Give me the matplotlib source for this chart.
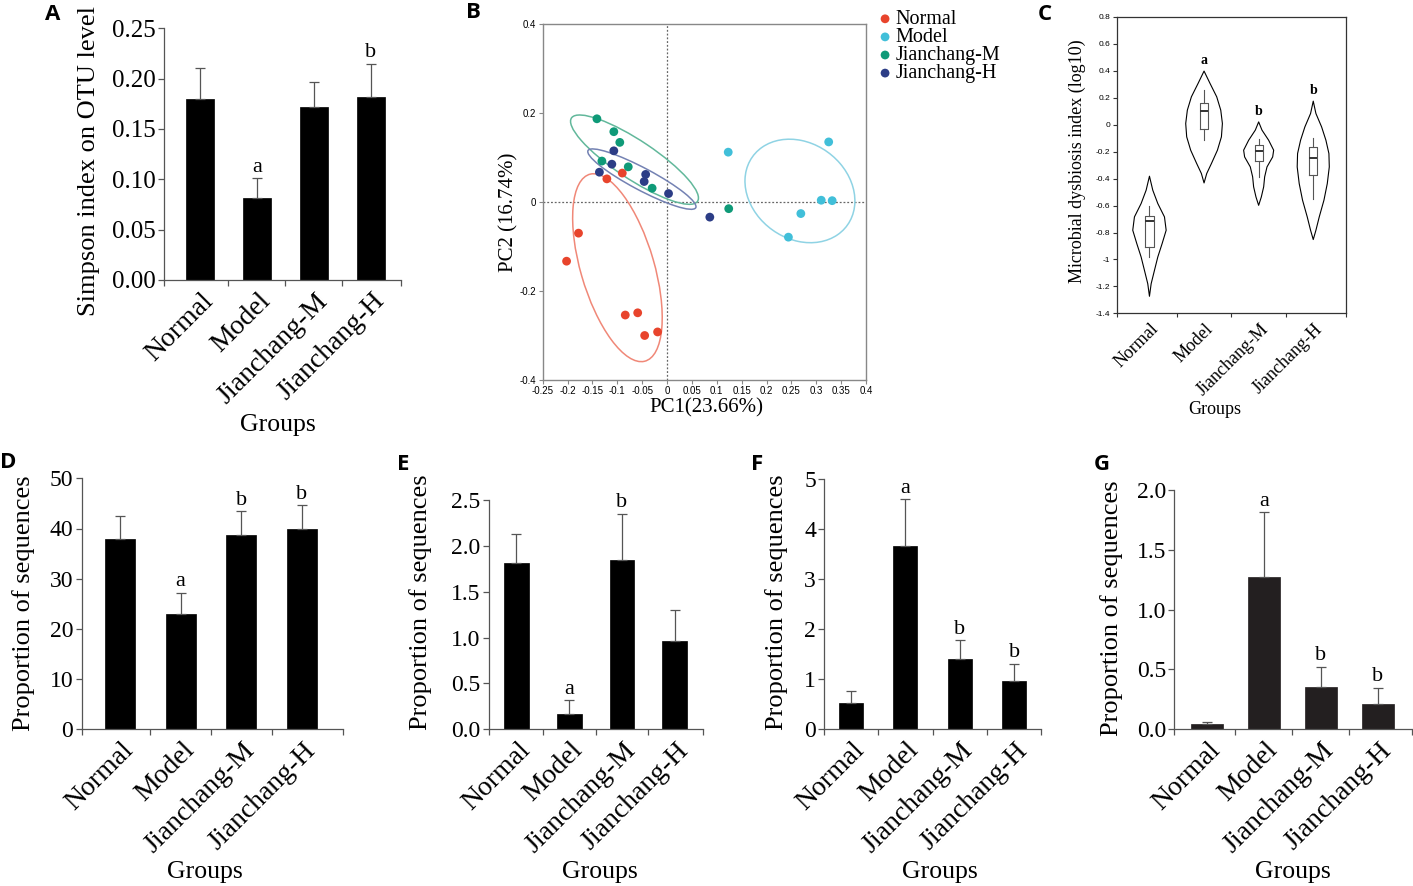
import matplotlib
matplotlib.use("Agg")  # must be before importing pyplot
import matplotlib.pyplot as plt
from matplotlib.patches import Ellipse
from matplotlib.ticker import FuncFormatter
from matplotlib.transforms import ScaledTranslation
import numpy as np

plt.rcParams["font.family"] = ["Liberation Serif", "DejaVu Serif"]
plt.rcParams["axes.unicode_minus"] = False

W, H = 1413, 886
groups = ["Normal", "Model", "Jianchang-M", "Jianchang-H"]

# A: Simpson index
simpson_mean = [0.180, 0.081, 0.172, 0.182]
simpson_err = [0.031, 0.020, 0.025, 0.033]
simpson_sig = ["", "a", "", "b"]

# B: PCA scores
pca_normal_x = [-0.202, -0.178, -0.121, -0.090, -0.084, -0.059, -0.045, -0.019]
pca_normal_y = [-0.133, -0.070, 0.052, 0.065, -0.254, -0.249, -0.300, -0.292]
pca_model_x = [0.123, 0.325, 0.310, 0.332, 0.269, 0.244]
pca_model_y = [0.112, 0.135, 0.004, 0.003, -0.026, -0.079]
pca_jm_x = [-0.141, -0.107, -0.095, -0.131, -0.078, -0.030, 0.124]
pca_jm_y = [0.187, 0.158, 0.134, 0.092, 0.079, 0.031, -0.015]
pca_jh_x = [-0.107, -0.111, -0.136, -0.043, -0.046, 0.003, 0.086]
pca_jh_y = [0.115, 0.085, 0.067, 0.062, 0.046, 0.019, -0.034]

# C: microbial dysbiosis index, violin outline (level, half width) and box stats
mdi_levels = [
    [-0.382, -0.486, -0.585, -0.684, -0.783, -0.882, -0.981, -1.08, -1.18, -1.273],
    [0.398, 0.306, 0.207, 0.108, 0.009, -0.09, -0.189, -0.288, -0.362, -0.432],
    [0.021, -0.04, -0.115, -0.189, -0.239, -0.313, -0.387, -0.461, -0.536, -0.598],
    [0.175, 0.083, -0.016, -0.115, -0.214, -0.313, -0.437, -0.56, -0.684, -0.783, -0.852],
]
mdi_halfwidth = [
    [0, 0.061, 0.153, 0.275, 0.306, 0.232, 0.153, 0.092, 0.031, 0],
    [0, 0.110, 0.232, 0.306, 0.336, 0.318, 0.245, 0.135, 0.049, 0],
    [0, 0.061, 0.183, 0.275, 0.257, 0.153, 0.110, 0.092, 0.049, 0],
    [0, 0.049, 0.153, 0.232, 0.287, 0.294, 0.257, 0.196, 0.110, 0.049, 0],
]
mdi_median = [-0.714, 0.103, -0.192, -0.244]
mdi_q1 = [-0.909, -0.031, -0.266, -0.375]
mdi_q3 = [-0.677, 0.162, -0.147, -0.164]
mdi_whislo = [-0.981, -0.115, -0.387, -0.553]
mdi_whishi = [-0.600, 0.256, -0.107, -0.095]
mdi_sig = ["", "a", "b", "b"]

# D-G: proportion of sequences
d_mean = [38.0, 22.9, 38.8, 39.9]
d_err = [4.5, 4.3, 4.6, 4.8]
d_sig = ["", "a", "b", "b"]
e_mean = [1.81, 0.17, 1.85, 0.96]
e_err = [0.32, 0.15, 0.50, 0.34]
e_sig = ["", "a", "b", ""]
f_mean = [0.53, 3.67, 1.41, 0.97]
f_err = [0.23, 0.93, 0.37, 0.34]
f_sig = ["", "a", "b", "b"]
g_mean = [0.045, 1.27, 0.355, 0.215]
g_err = [0.013, 0.545, 0.167, 0.134]
g_sig = ["", "a", "b", "b"]

fig = plt.figure(figsize=(W / 100, H / 100), dpi=100)


def px_rect(left, right, top, bottom):
    return [left / W, 1 - bottom / H, (right - left) / W, (bottom - top) / H]


def ftext(x, y, s, **kw):
    fig.text(x / W, 1 - y / H, s, **kw)


def panel_letter(x, y, s):
    ftext(x, y, s, family="Open Sans", fontweight="bold", fontsize=16,
          ha="center", va="center")


def cat_labels(ax, fs, dx, pad):
    ax.set_xticks(np.arange(1, 5), minor=True)
    ax.set_xticklabels(groups, minor=True, rotation=45, ha="right", va="top",
                       rotation_mode="anchor", fontsize=fs)
    ax.tick_params(axis="x", which="minor", length=0, pad=pad)
    for lab in ax.get_xticklabels(minor=True):
        lab.set_transform(lab.get_transform() + ScaledTranslation(dx / 100, 0, fig.dpi_scale_trans))


def gfmt(digits):
    return FuncFormatter(lambda v, p: "{:g}".format(round(v, digits) + 0.0))


def bar_panel(rect, xlim, means, errs, sig, ymax, yticks, fmt, bar_w,
              color="black", tick_fs=17, cat_fs=20):
    ax = fig.add_axes(rect)
    x = np.arange(1, 5)
    ax.bar(x, means, width=bar_w, color=color, edgecolor=color, linewidth=0.5, zorder=2)
    ax.errorbar(x, means, yerr=[np.zeros(4), errs], fmt="none", ecolor="#555555",
                elinewidth=0.9, capsize=3.5, capthick=0.9, zorder=3)
    for xi, m, e, s in zip(x, means, errs, sig):
        if s:
            ax.annotate(s, (xi, m + e), xytext=(0, 1), textcoords="offset points",
                        ha="center", va="bottom", fontsize=16)
    ax.set_xlim(*xlim)
    ax.set_ylim(0, ymax)
    ax.set_yticks(yticks)
    ax.set_yticklabels([fmt.format(v) for v in yticks], fontsize=tick_fs)
    ax.set_xticks([xlim[0], 1.5, 2.5, 3.5, xlim[1]])
    ax.set_xticklabels([])
    for side in ("top", "right"):
        ax.spines[side].set_visible(False)
    for side in ("left", "bottom"):
        ax.spines[side].set_color("#555555")
        ax.spines[side].set_linewidth(0.9)
    ax.tick_params(axis="both", which="major", direction="out", length=4,
                   width=0.9, color="#555555", pad=2)
    cat_labels(ax, cat_fs, 1, 6)
    return ax


# ---- A ----
bar_panel(px_rect(164, 401, 28.3, 280), (0.37, 4.53), simpson_mean, simpson_err,
          simpson_sig, 0.25, [0, 0.05, 0.10, 0.15, 0.20, 0.25], "{:.2f}", 0.49,
          tick_fs=18, cat_fs=20)
ftext(89, 161, "Simpson index on OTU level", rotation=90, ha="center", va="center", fontsize=19)
ftext(278, 425, "Groups", ha="center", va="center", fontsize=18.5)
panel_letter(53, 14, "A")

# ---- B ----
axb = fig.add_axes(px_rect(542.7, 866, 24, 380))
pca_sets = [
    ("Normal", pca_normal_x, pca_normal_y, "#e8442c", "#f08878"),
    ("Model", pca_model_x, pca_model_y, "#41bfd9", "#8fd3e4"),
    ("Jianchang-M", pca_jm_x, pca_jm_y, "#0f9a78", "#62b89b"),
    ("Jianchang-H", pca_jh_x, pca_jh_y, "#2c3d86", "#7482b3"),
]
k = 1.41
for name, xs, ys, pc, ec in pca_sets:
    xs, ys = np.array(xs), np.array(ys)
    cov = np.cov(xs, ys)
    vals, vecs = np.linalg.eigh(cov)
    angle = np.degrees(np.arctan2(vecs[1, 1], vecs[0, 1]))
    axb.add_patch(Ellipse((xs.mean(), ys.mean()), 2 * k * np.sqrt(vals[1]),
                          2 * k * np.sqrt(vals[0]), angle=angle, fill=False,
                          edgecolor=ec, linewidth=1.1, zorder=2))
    axb.scatter(xs, ys, s=40, color=pc, edgecolors="none", zorder=4, label=name)
axb.axhline(0, color="#666666", lw=0.9, ls=(0, (1.5, 1.5)), zorder=1)
axb.axvline(0, color="#666666", lw=0.9, ls=(0, (1.5, 1.5)), zorder=1)
axb.set_xlim(-0.25, 0.4)
axb.set_ylim(-0.4, 0.4)
axb.set_xticks(np.round(np.arange(-0.25, 0.401, 0.05), 2))
axb.set_yticks([-0.4, -0.2, 0, 0.2, 0.4])
axb.xaxis.set_major_formatter(gfmt(2))
axb.yaxis.set_major_formatter(gfmt(2))
for lab in axb.get_xticklabels() + axb.get_yticklabels():
    lab.set_family("Liberation Sans")
    lab.set_fontsize(7)
for sp in axb.spines.values():
    sp.set_color("#888888")
    sp.set_linewidth(1.0)
axb.tick_params(direction="out", length=3, width=0.8, color="#888888", pad=1.5)
axb.legend(loc="upper left", bbox_to_anchor=(875 / W, 1 - 10 / H),
           bbox_transform=fig.transFigure, frameon=False, fontsize=14.5,
           labelspacing=-0.05, handletextpad=0.0, handlelength=1.0,
           borderpad=0, borderaxespad=0, scatterpoints=1)
ftext(706, 408, "PC1(23.66%)", ha="center", va="center", fontsize=15)
ftext(509, 212, "PC2 (16.74%)", rotation=90, ha="center", va="center", fontsize=15)
panel_letter(473, 13, "B")

# ---- C ----
axc = fig.add_axes(px_rect(1116.7, 1346, 16.9, 313.4))
pos = np.arange(1, 5)
vstats = []
for lv, hw in zip(mdi_levels, mdi_halfwidth):
    lv = np.array(lv)
    vstats.append(dict(coords=lv, vals=np.array(hw), mean=lv.mean(),
                       median=np.median(lv), min=lv.min(), max=lv.max()))
vp = axc.violin(vstats, positions=pos, widths=[2 * max(hw) for hw in mdi_halfwidth],
                showmeans=False, showextrema=False, showmedians=False)
for body in vp["bodies"]:
    body.set_facecolor("none")
    body.set_edgecolor("black")
    body.set_linewidth(0.8)
    body.set_alpha(1)
bstats = [dict(med=m, q1=a, q3=b, whislo=lo, whishi=hi, fliers=[])
          for m, a, b, lo, hi in zip(mdi_median, mdi_q1, mdi_q3, mdi_whislo, mdi_whishi)]
axc.bxp(bstats, positions=pos, widths=0.15, showcaps=False, showfliers=False,
        manage_ticks=False,
        boxprops=dict(color="#555555", linewidth=0.8),
        whiskerprops=dict(color="#555555", linewidth=0.8),
        medianprops=dict(color="#333333", linewidth=1.4))
for p, lv, s in zip(pos, mdi_levels, mdi_sig):
    if s:
        axc.annotate(s, (p, max(lv)), xytext=(0, 3), textcoords="offset points",
                     ha="center", va="bottom", fontsize=10, fontweight="bold")
axc.set_xlim(0.4, 4.6)
axc.set_ylim(-1.4, 0.8)
axc.set_yticks(np.round(np.arange(-1.4, 0.81, 0.2), 1))
axc.yaxis.set_major_formatter(gfmt(1))
for lab in axc.get_yticklabels():
    lab.set_family("Liberation Sans")
    lab.set_fontsize(6)
axc.set_xticks([0.4, 1.5, 2.5, 3.5, 4.6])
axc.set_xticklabels([])
for sp in axc.spines.values():
    sp.set_color("#333333")
    sp.set_linewidth(0.9)
axc.tick_params(axis="both", which="major", direction="out", length=3, width=0.8,
                color="#333333", pad=1.5)
cat_labels(axc, 13, 1, 5)
ftext(1077, 161, "Microbial dysbiosis index (log10)", rotation=90, ha="center",
      va="center", fontsize=13)
ftext(1215, 410, "Groups", ha="center", va="center", fontsize=13)
panel_letter(1045, 15, "C")

# ---- D-G ----
bar_panel(px_rect(81.7, 342.7, 478.3, 729.3), (0.37, 4.67), d_mean, d_err, d_sig,
          50, [0, 10, 20, 30, 40, 50], "{:d}", 0.49)
ftext(24, 603, "Proportion of sequences", rotation=90, ha="center", va="center", fontsize=19)
ftext(205, 872, "Groups", ha="center", va="center", fontsize=18.5)
panel_letter(8, 463, "D")

bar_panel(px_rect(489, 702.7, 500, 729.3), (0.48, 4.53), e_mean, e_err, e_sig,
          2.5, [0, 0.5, 1.0, 1.5, 2.0, 2.5], "{:.1f}", 0.47)
ftext(421, 602, "Proportion of sequences", rotation=90, ha="center", va="center", fontsize=19)
ftext(600, 872, "Groups", ha="center", va="center", fontsize=18.5)
panel_letter(403, 465, "E")

bar_panel(px_rect(824.3, 1040.7, 479.3, 729.3), (0.51, 4.49), f_mean, f_err, f_sig,
          5, [0, 1, 2, 3, 4, 5], "{:d}", 0.44)
ftext(777, 602, "Proportion of sequences", rotation=90, ha="center", va="center", fontsize=19)
ftext(940, 872, "Groups", ha="center", va="center", fontsize=18.5)
panel_letter(757, 465, "F")

bar_panel(px_rect(1174.3, 1412.3, 490, 729.3), (0.43, 4.61), g_mean, g_err, g_sig,
          2.0, [0, 0.5, 1.0, 1.5, 2.0], "{:.1f}", 0.56, color="#231f20")
ftext(1112, 608, "Proportion of sequences", rotation=90, ha="center", va="center", fontsize=19)
ftext(1293, 872, "Groups", ha="center", va="center", fontsize=18.5)
panel_letter(1102, 465, "G")

fig.savefig("out.png", dpi=100)
plt.close(fig)
